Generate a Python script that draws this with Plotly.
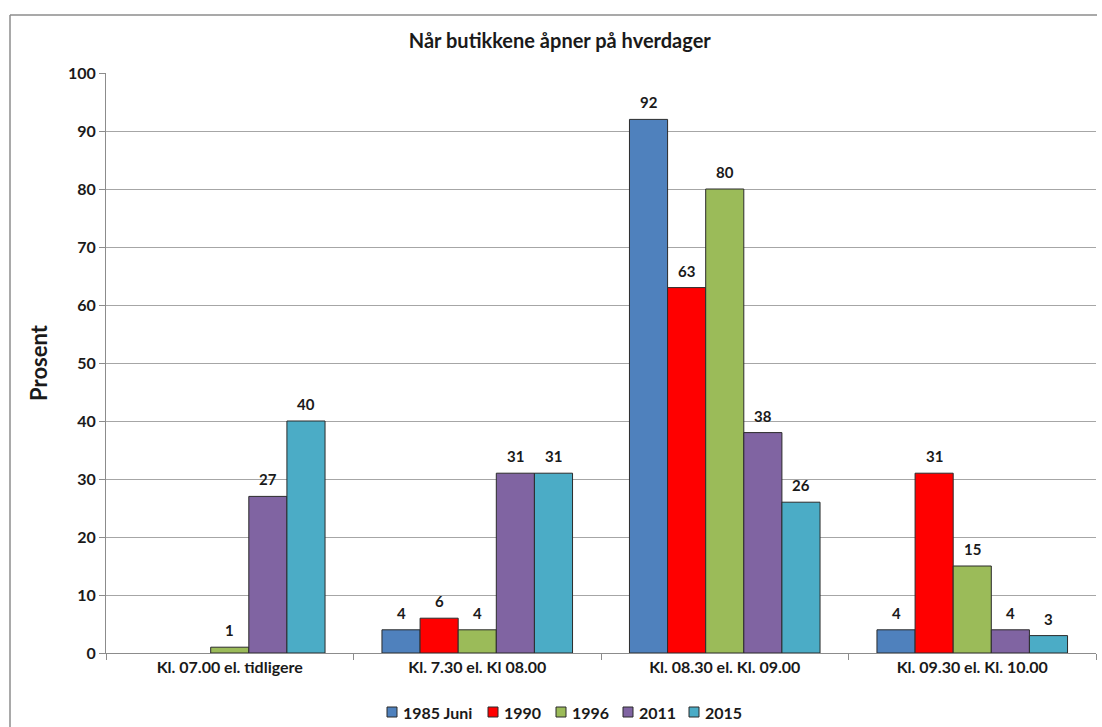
import plotly.graph_objects as go

# Opening times on weekdays, share of shops (percent)
categories = [
    "Kl. 07.00 el. tidligere",
    "Kl. 7.30 el. Kl 08.00",
    "Kl. 08.30 el. Kl. 09.00",
    "Kl. 09.30 el. Kl. 10.00",
]
series_names = ["1985 Juni", "1990", "1996", "2011", "2015"]
values_1985 = [None, 4, 92, 4]
values_1990 = [None, 6, 63, 31]
values_1996 = [1, 4, 80, 15]
values_2011 = [27, 31, 38, 4]
values_2015 = [40, 31, 26, 3]
colors = ["#4F81BD", "#FF0000", "#9BBB59", "#8064A2", "#4BACC6"]
y_ticks = list(range(0, 101, 10))

FONT = "Lato"
TEXT = "#1a1a1a"
BARGAP = 0.23

# Plot-area geometry in pixels
W, H = 1102, 727
ML, MR, MT, MB = 106, 6, 73, 74
PW, PH = W - ML - MR, H - MT - MB


def px_x(px):
    return (px - ML) / PW


def px_y(py):
    return (H - MB - py) / PH


all_values = [values_1985, values_1990, values_1996, values_2011, values_2015]

fig = go.Figure()
for name, vals, col in zip(series_names, all_values, colors):
    fig.add_trace(
        go.Bar(
            name=name,
            x=categories,
            y=vals,
            marker=dict(color=col, line=dict(color="#2b2b2b", width=1)),
            showlegend=False,
        )
    )

# Value labels above each bar (group offsets follow the bar layout)
n = len(series_names)
group_w = 1 - BARGAP
bar_w = group_w / n
for si, vals in enumerate(all_values):
    off = -group_w / 2 + bar_w * (si + 0.5)
    for ci, v in enumerate(vals):
        if v is None:
            continue
        fig.add_annotation(
            x=ci + off,
            y=v,
            xref="x",
            yref="y",
            text=str(v),
            showarrow=False,
            yanchor="bottom",
            yshift=6,
            font=dict(family=FONT, size=15, color=TEXT, weight=700),
        )

# Legend row below the category labels: square swatch followed by the name
legend_left_px = [387, 488, 556, 623, 689]
legend_mid_px = 712
swatch = 10
for name, col, lx in zip(series_names, colors, legend_left_px):
    fig.add_shape(
        type="rect",
        xref="paper",
        yref="paper",
        x0=px_x(lx),
        x1=px_x(lx + swatch),
        y0=px_y(legend_mid_px + swatch / 2),
        y1=px_y(legend_mid_px - swatch / 2),
        fillcolor=col,
        line=dict(color="#2b2b2b", width=1),
    )
    fig.add_annotation(
        x=px_x(lx + swatch + 4),
        y=px_y(legend_mid_px),
        xref="paper",
        yref="paper",
        text=name,
        showarrow=False,
        xanchor="left",
        yanchor="middle",
        font=dict(family=FONT, size=16, color=TEXT, weight=700),
    )

fig.update_layout(
    width=W,
    height=H,
    margin=dict(l=ML, r=MR, t=MT, b=MB, autoexpand=False),
    paper_bgcolor="white",
    plot_bgcolor="white",
    barmode="group",
    bargap=BARGAP,
    bargroupgap=0,
    font=dict(family=FONT, color=TEXT),
    title=dict(
        text="Når butikkene åpner på hverdager",
        font=dict(family=FONT, size=20, color=TEXT, weight=700),
        xref="container",
        x=0.508,
        xanchor="center",
        yref="container",
        y=1 - 41 / H,
        yanchor="middle",
    ),
    showlegend=False,
)

fig.update_yaxes(
    range=[0, 100],
    tickvals=y_ticks,
    automargin=False,
    showgrid=True,
    gridcolor="#a6a6a6",
    gridwidth=1,
    showline=True,
    linecolor="#8c8c8c",
    linewidth=1,
    ticks="outside",
    ticklen=6,
    tickcolor="#8c8c8c",
    tickfont=dict(family=FONT, size=16, color=TEXT, weight=700),
    zeroline=False,
    title=dict(
        text="Prosent",
        font=dict(family=FONT, size=22, color=TEXT, weight=700),
        standoff=14,
    ),
)

fig.update_xaxes(
    automargin=False,
    showline=True,
    linecolor="#8c8c8c",
    linewidth=1,
    ticks="outside",
    tickson="boundaries",
    ticklen=6,
    tickcolor="#8c8c8c",
    tickfont=dict(family=FONT, size=16, color=TEXT, weight=700),
)

# Outer chart frame: left and top edges
frame = dict(color="#8c8c8c", width=1.5)
fig.add_shape(type="line", xref="paper", yref="paper",
              x0=px_x(10), x1=px_x(10), y0=px_y(H + 5), y1=px_y(15), line=frame)
fig.add_shape(type="line", xref="paper", yref="paper",
              x0=px_x(10), x1=px_x(1097), y0=px_y(15), y1=px_y(15), line=frame)

fig.write_html("out.html", config={"displayModeBar": False})
